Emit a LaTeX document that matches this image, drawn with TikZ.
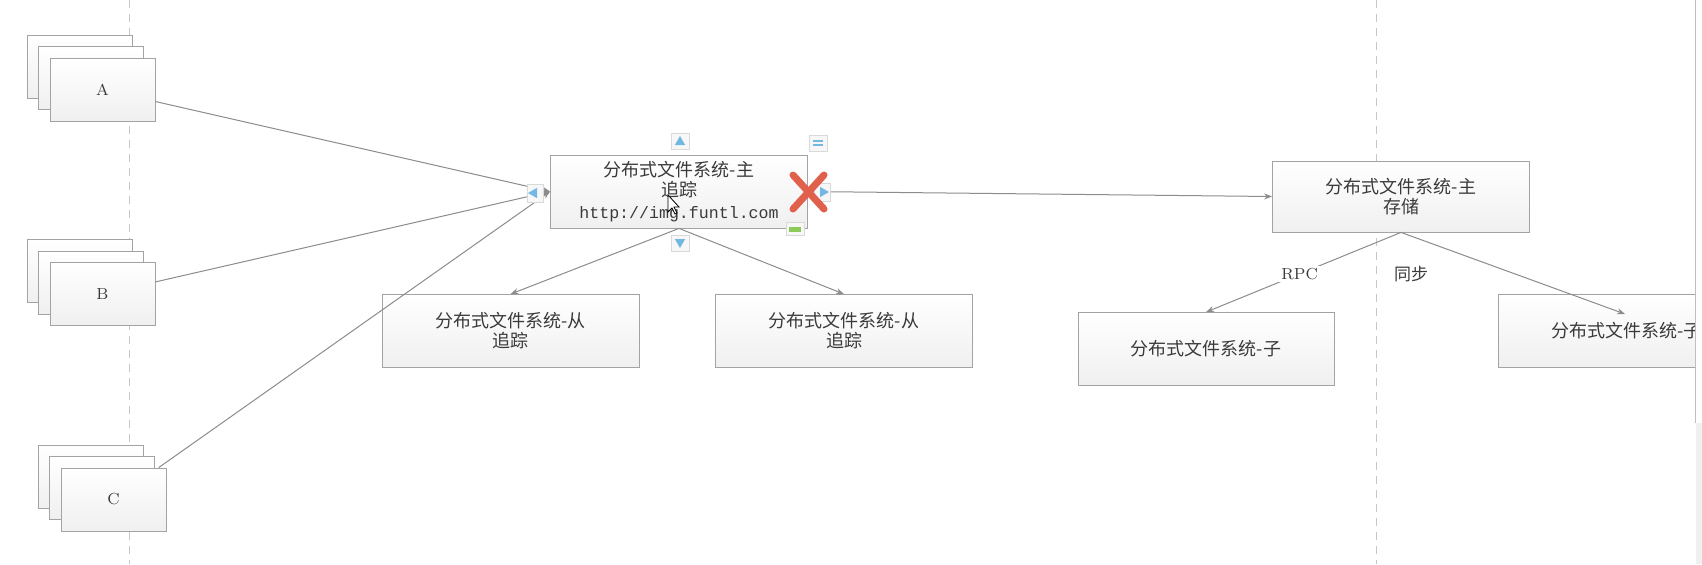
\documentclass[tikz,border=0pt]{standalone}
\usepackage{fontspec}
\newfontfamily\cjk{Noto Sans CJK SC}
\setmonofont{Liberation Mono}
\usepackage{xcolor}
\usetikzlibrary{positioning,calc,arrows.meta,shapes.geometric}

\definecolor{linegray}{HTML}{8C8C8C}
\definecolor{boxgray}{HTML}{A3A3A3}
\definecolor{txtgray}{HTML}{3A3A3A}
\definecolor{handleblue}{HTML}{72B8E2}
\definecolor{xred}{HTML}{E0604C}
\definecolor{growgreen}{HTML}{8CCB5A}

\begin{document}
\begin{tikzpicture}[x=0.5pt, y=-0.5pt, ->, >={Stealth[length=4pt, width=3pt]}, box/.style = {rectangle, draw=boxgray, top color=white, bottom color=black!6, minimum width=128.5pt, minimum height=36.5pt, inner sep=0pt, align=center, text=txtgray, font=\cjk\fontsize{9}{10}\selectfont}, card/.style = {rectangle, draw=boxgray, top color=white, bottom color=black!6, minimum width=52.5pt, minimum height=31.5pt, inner sep=0pt, text=txtgray, font=\fontsize{8}{9}\selectfont}, handle/.style = {rectangle, draw=black!15, fill=black!3, minimum width=9pt, minimum height=8pt, inner sep=0pt}, tri/.style = {regular polygon, regular polygon sides=3, fill=handleblue, minimum size=6pt, inner sep=0pt}, every edge/.append style={draw=linegray, line width=0.5pt}]

\useasboundingbox (0,0) rectangle (1702,564);
\fill[white] (0,0) rectangle (1702,564);

%swimlane borders
\draw[-, dashed, black!22, dash pattern=on 4pt off 3pt] (129,0) -- (129,564);
\draw[-, dashed, black!22, dash pattern=on 4pt off 3pt] (1376,0) -- (1376,564);

\begin{scope}[shift = {(102.5,89.5)}] %client A
\node[card] (A3) at (-23,-23) {};
\node[card] (A2) at (-11.5,-11.5) {};
\node[card] (A) at (0,0) {A};
\end{scope}

\begin{scope}[shift = {(102.5,294)}] %client B
\node[card] (B3) at (-23,-23) {};
\node[card] (B2) at (-11.5,-11.5) {};
\node[card] (B) at (0,0) {B};
\end{scope}

\begin{scope}[shift = {(113.5,499.5)}] %client C
\node[card] (C3) at (-23,-23) {};
\node[card] (C2) at (-11.5,-11.5) {};
\node[card] (C) at (0,0) {C};
\end{scope}

%tracker
\node[box] (tracker) at (679,191.5) {\fontsize{9}{10.8}\selectfont 分布式文件系统-主\\追踪\\[0.8pt]{\ttfamily\fontsize{8.3}{10}\selectfont http://img.funtl.com}};
\node[box] (slave1) at (510.5,331) {分布式文件系统-从\\追踪};
\node[box] (slave2) at (844,331) {分布式文件系统-从\\追踪};

%storage
\node[box, minimum height=35.5pt] (storage) at (1401,196.5) {分布式文件系统-主\\存储};
\node[box, minimum width=128pt] (child1) at (1206,349) {分布式文件系统-子};
\begin{scope}
\clip (0,0) rectangle (1695,564);
\node[box] (child2) at (1626.5,331) {分布式文件系统-子};
\end{scope}
\coordinate (child2tip) at (1625,314);

\path
    (A) edge (tracker.west)
    (B) edge (tracker.west)
    (C) edge (tracker.west)
    (tracker.south) edge (slave1.north)
    (tracker.south) edge (slave2.north)
    (tracker.east) edge (storage.west)
    (storage.south) edge node[pos=0.52, fill=white, inner sep=1pt, text=txtgray, font=\fontsize{8}{9}\selectfont] (rpc) {RPC} (child1.north)
    (storage.south) edge (child2tip);
\node[text=txtgray, font=\cjk\fontsize{8.5}{9}\selectfont] (sync) at (1411,274) {同步};

%selection handles
\node[handle] (hup) at (680,141) {};
\node[tri] (hupt) at (680,142) {};
\node[handle] (hdown) at (680,243) {};
\node[tri, shape border rotate=180] (hdownt) at (680,242) {};
\node[handle, minimum width=8pt, minimum height=9pt] (hleft) at (535,193) {};
\node[tri, shape border rotate=90] (hleftt) at (534,193) {};
\node[handle, minimum width=8pt, minimum height=9pt] (hright) at (822,192) {};
\node[tri, shape border rotate=-90] (hrightt) at (823,192) {};
\node[handle] (hmenu) at (818,143) {};
\draw[-, handleblue, line width=1pt] ([xshift=-2.5pt, yshift=1.2pt]hmenu.center) -- ([xshift=2.5pt, yshift=1.2pt]hmenu.center);
\draw[-, handleblue, line width=1pt] ([xshift=-2.5pt, yshift=-1.2pt]hmenu.center) -- ([xshift=2.5pt, yshift=-1.2pt]hmenu.center);
\node[handle, minimum height=6.5pt] (hgrow) at (795,229) {};
\node[fill=growgreen, minimum width=6pt, minimum height=2.5pt, inner sep=0pt] (hgrowbar) at (795,229) {};

%delete mark
\draw[-, xred, line width=3.5pt, line cap=round] (793,175) -- (824,209) (824,175) -- (793,209);

%mouse pointer
\draw[-, black, fill=white, line width=0.4pt] (668,195) -- (668,212) -- (672,208) -- (675,214) -- (677,213) -- (674,207) -- (679,207) -- cycle;

%window edge
\draw[-, black!25] (1695,0) -- (1695,423);
\fill[black!6] (1695.5,423) rectangle (1702,564);
\end{tikzpicture}
\end{document}
